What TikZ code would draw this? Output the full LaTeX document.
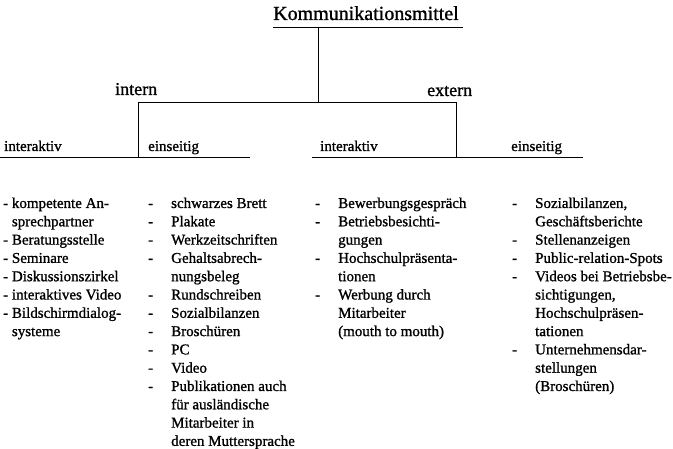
\documentclass[tikz,border=0pt]{standalone}
\usepackage{fontspec}
\setmainfont{Liberation Serif}[FakeBold=1.1]

\tikzset{
  conn/.style={line width=0.9pt},
  toptitle/.style={inner sep=0pt, anchor=base west, font=\fontsize{20}{24}\selectfont},
  branch/.style={inner sep=0pt, anchor=base west, font=\fontsize{18}{22}\selectfont},
  kind/.style={inner sep=0pt, anchor=base west, font=\fontsize{15}{18}\selectfont},
  itemlist/.style={inner sep=0pt, anchor=base west, font=\fontsize{15}{18.3}\selectfont},
}
\newcommand{\dashitem}{\makebox[23pt][l]{-}}

\begin{document}
\begin{tikzpicture}[x=1pt,y=1pt]
\useasboundingbox (0,0) rectangle (673,-449);

% title and tree
\node[toptitle] (top) at (273,-20) {Kommunikationsmittel};
\coordinate (ulL) at (273,-27);
\coordinate (ulR) at (463,-27);
\coordinate (stem) at (318,-27);
\coordinate (barM) at (318,-102);
\coordinate (barL) at (138,-102);
\coordinate (barR) at (456,-102);
\coordinate (footL) at (138,-157);
\coordinate (footR) at (456,-157);
\draw[conn] (ulL) -- (ulR);
\draw[conn] (stem) -- (barM);
\draw[conn] (footL) -- (barL) -- (barR) -- (footR);

\node[branch] (intern) at (115,-95) {intern};
\node[branch] (extern) at (427,-96) {extern};

% category labels with their rules
\node[kind] (iaL) at (4,-151) {interaktiv};
\node[kind] (esL) at (148,-151) {einseitig};
\node[kind] (iaR) at (320,-151) {interaktiv};
\node[kind] (esR) at (511,-151) {einseitig};
\coordinate (ruleLa) at (0,-157);
\coordinate (ruleLb) at (250,-157);
\coordinate (ruleRa) at (312,-157);
\coordinate (ruleRb) at (583,-157);
\draw[conn] (ruleLa) -- (ruleLb);
\draw[conn] (ruleRa) -- (ruleRb);

% lists
\node[itemlist] (list1) at (3,-208) {\begin{tabular}[t]{@{}l@{}}
- kompetente An-\\
\phantom{- }sprechpartner\\
- Beratungsstelle\\
- Seminare\\
- Diskussionszirkel\\
- interaktives Video\\
- Bildschirmdialog-\\
\phantom{- }systeme
\end{tabular}};

\node[itemlist] (list2) at (148,-208) {\begin{tabular}[t]{@{}l@{}l@{}}
\dashitem & schwarzes Brett\\
\dashitem & Plakate\\
\dashitem & Werkzeitschriften\\
\dashitem & Gehaltsabrech-\\
 & nungsbeleg\\
\dashitem & Rundschreiben\\
\dashitem & Sozialbilanzen\\
\dashitem & Broschüren\\
\dashitem & PC\\
\dashitem & Video\\
\dashitem & Publikationen auch\\
 & für ausländische\\
 & Mitarbeiter in\\
 & deren Muttersprache
\end{tabular}};

\node[itemlist] (list3) at (315,-208) {\begin{tabular}[t]{@{}l@{}l@{}}
\dashitem & Bewerbungsgespräch\\
\dashitem & Betriebsbesichti-\\
 & gungen\\
\dashitem & Hochschulpräsenta-\\
 & tionen\\
\dashitem & Werbung durch\\
 & Mitarbeiter\\
 & (mouth to mouth)
\end{tabular}};

\node[itemlist] (list4) at (512,-208) {\begin{tabular}[t]{@{}l@{}l@{}}
\dashitem & Sozialbilanzen,\\
 & Geschäftsberichte\\
\dashitem & Stellenanzeigen\\
\dashitem & Public-relation-Spots\\
\dashitem & Videos bei Betriebsbe-\\
 & sichtigungen,\\
 & Hochschulpräsen-\\
 & tationen\\
\dashitem & Unternehmensdar-\\
 & stellungen\\
 & (Broschüren)
\end{tabular}};
\end{tikzpicture}
\end{document}
